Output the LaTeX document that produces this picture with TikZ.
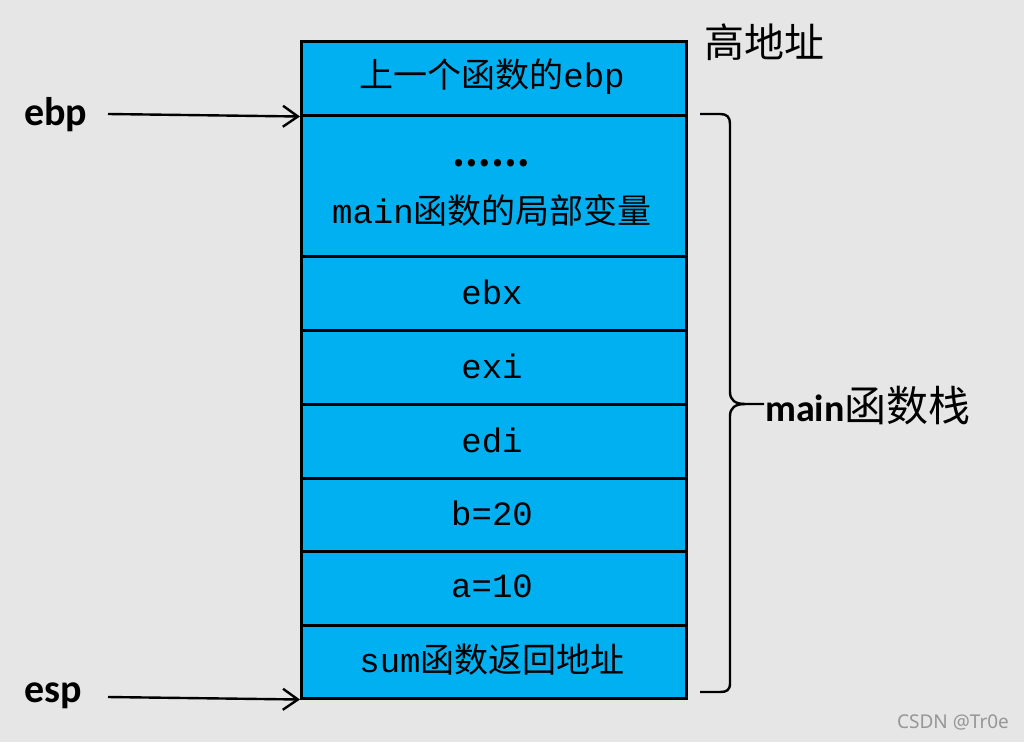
\documentclass[tikz,border=0pt]{standalone}
\usepackage{fontspec}
\usetikzlibrary{arrows.meta}
\newfontfamily\cjk{Noto Sans CJK SC}
\newfontfamily\monof{Liberation Mono}
\newfontfamily\calf{Carlito}
\newfontfamily\wmf{Noto Sans}
\definecolor{bg}{RGB}{230,230,230}
\definecolor{cellblue}{RGB}{0,176,240}
\definecolor{wmgray}{RGB}{150,150,150}
\newcommand{\bxt}[1]{{\fontsize{34}{38}\selectfont #1}}
\tikzset{
  cell/.style={draw=black, line width=2.5pt, fill=cellblue, minimum width=385pt, inner sep=0pt, anchor=north west},
  celltext/.style={inner sep=0pt, text=black},
  ptr/.style={line width=2.4pt, -{Straight Barb[length=15pt,width=21pt]}},
  reglabel/.style={inner sep=0pt, font=\calf\bfseries\fontsize{40}{42}\selectfont},
  brace/.style={line width=2.4pt, line join=round}
}
\begin{document}
\begin{tikzpicture}[x=1pt,y=-1pt]
\fill[bg] (0,0) rectangle (1024,742);
\useasboundingbox (0,0) rectangle (1024,742);
% stack cells
\node[cell, minimum height=74pt]  (r1) at (300,40)  {};
\node[cell, minimum height=141pt] (r2) at (300,114) {};
\node[cell, minimum height=74pt]  (r3) at (300,255) {};
\node[cell, minimum height=74pt]  (r4) at (300,329) {};
\node[cell, minimum height=74pt]  (r5) at (300,403) {};
\node[cell, minimum height=73pt]  (r6) at (300,477) {};
\node[cell, minimum height=74pt]  (r7) at (300,550) {};
\node[cell, minimum height=73pt]  (r8) at (300,624) {};
% cell texts
\node[celltext] (t1) at (492,77) {\bxt{\cjk 上一个函数的\monof ebp}};
\node[celltext] (t2a) at (491,163) {{\cjk\bfseries\fontsize{34}{36}\selectfont ……}};
\node[celltext] (t2b) at (492,210) {\bxt{\monof main\cjk 函数的局部变量}};
\node[celltext] (t3) at (492,292) {\bxt{\monof ebx}};
\node[celltext] (t4) at (492,366) {\bxt{\monof exi}};
\node[celltext] (t5) at (492,440) {\bxt{\monof edi}};
\node[celltext] (t6) at (492,513) {\bxt{\monof b=20}};
\node[celltext] (t7) at (492,586) {\bxt{\monof a=10}};
\node[celltext] (t8) at (492,660) {\bxt{\monof sum\cjk 函数返回地址}};
% high address
\node[inner sep=0pt, anchor=west, font=\cjk\fontsize{40}{42}\selectfont] (high) at (704,42) {高地址};
% pointers
\node[reglabel, anchor=west] (ebp) at (24,115) {ebp};
\node[reglabel, anchor=west] (esp) at (24,696) {esp};
\coordinate (ebpS) at (108,114);
\coordinate (espS) at (108,697);
\draw[ptr] (ebpS) -- (r1.south west);
\draw[ptr] (espS) -- (r8.south west);
% brace
\draw[brace] (700,114) -- (720,114) .. controls (727,114) and (730,117) .. (730,124)
  -- (730,392) .. controls (730,400) and (735,404) .. (745,404) -- (764,404);
\draw[brace] (745,404) .. controls (735,404) and (730,408) .. (730,416)
  -- (730,683) .. controls (730,690) and (727,692) .. (720,692) -- (700,692);
\node[inner sep=0pt, anchor=west] (mainstack) at (765,406)
  {{\calf\bfseries\fontsize{38}{40}\selectfont main}{\cjk\fontsize{42}{44}\selectfont 函数栈}};
% watermark
\node[inner sep=0pt, text=wmgray, font=\wmf\fontsize{19}{21}\selectfont] (wm) at (953,722) {CSDN @Tr0e};
\end{tikzpicture}
\end{document}
